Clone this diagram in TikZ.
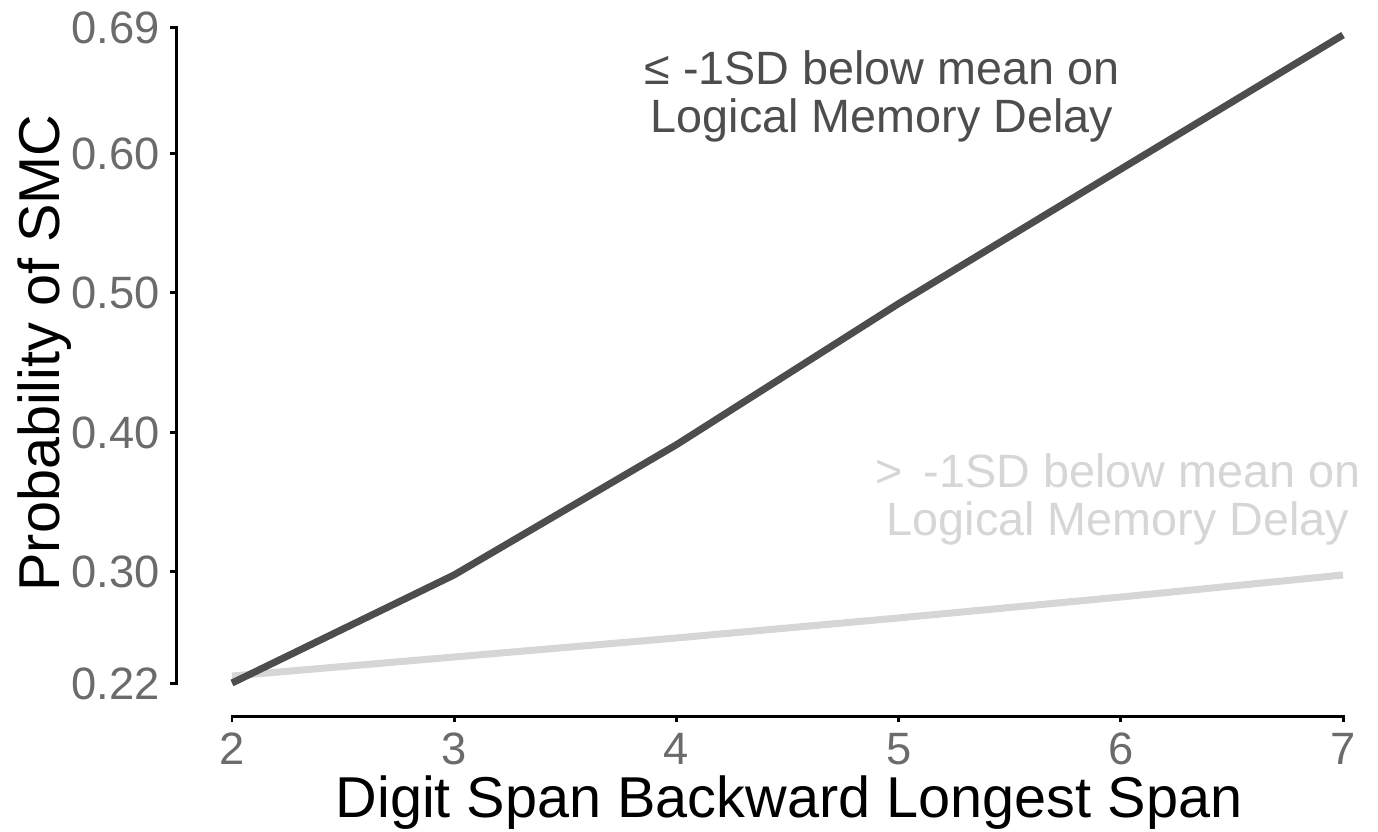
\documentclass[tikz,border=0pt]{standalone}
\usepackage{fontspec}
\setmainfont{Liberation Sans}
\usetikzlibrary{positioning}

\definecolor{darkgrp}{HTML}{4D4D4D}
\definecolor{lightgrp}{HTML}{D6D6D6}
\definecolor{ticktext}{HTML}{6B6B6B}

\begin{document}
\begin{tikzpicture}[x=0.02cm, y=-0.02cm,
  axisline/.style={line width=1.7pt},
  ticklab/.style={text=ticktext, font=\fontsize{25.8}{30}\selectfont, inner sep=0pt},
  axtitle/.style={font=\fontsize{32.8}{38}\selectfont, inner sep=0pt},
  note/.style={font=\fontsize{26.6}{27.4}\selectfont, align=center, inner sep=0pt},
  curve/.style={line width=4pt, line join=round}]
  \useasboundingbox (0,0) rectangle (1378,831);
  % axes
  \draw[axisline] (170,27.6) -- (176.5,27.6) -- (176.5,683.3) -- (170,683.3);
  \draw[axisline] (232,722) -- (232,716) -- (1343,716) -- (1343,722);
  \foreach \p/\y [count=\i] in {0.69/27.6, 0.60/153.2, 0.50/292.7, 0.40/432.2, 0.30/571.7} {
    \draw[axisline] (170,\y) -- (176.5,\y);
  }
  \foreach \p/\y [count=\i] in {0.69/27.6, 0.60/153.2, 0.50/292.7, 0.40/432.2, 0.30/571.7, 0.22/683.3}
    \node[ticklab, anchor=base east] (ylab\i) at (160,\y+16) {\p};
  \foreach \d [count=\i] in {2,...,7} {
    \draw[axisline] (232+222.2*\i-222.2,716) -- (232+222.2*\i-222.2,722);
    \node[ticklab, anchor=base] (xlab\i) at (232+222.2*\i-222.2,764) {\d};
  }
  \node[axtitle, anchor=base] (xtitle) at (789,817) {Digit Span Backward Longest Span};
  \node[axtitle, anchor=base, rotate=90] (ytitle) at (59,353) {Probability of SMC};
  % predicted probabilities
  \draw[curve, lightgrp] (232,676) -- (454,657) -- (676,638) -- (898,618) -- (1121,597) -- (1343,575);
  \draw[curve, darkgrp] (232,683) -- (454,575) -- (676,445) -- (898,304) -- (1121,169) -- (1343,35);
  % group labels
  \node[note, text=darkgrp] (lowgrp) at (882,96) {≤ -1SD below mean on\\Logical Memory Delay};
  \node[note, text=lightgrp] (highgrp) at (1118,499) {>\ \,-1SD below mean on\\Logical Memory Delay};
\end{tikzpicture}
\end{document}
